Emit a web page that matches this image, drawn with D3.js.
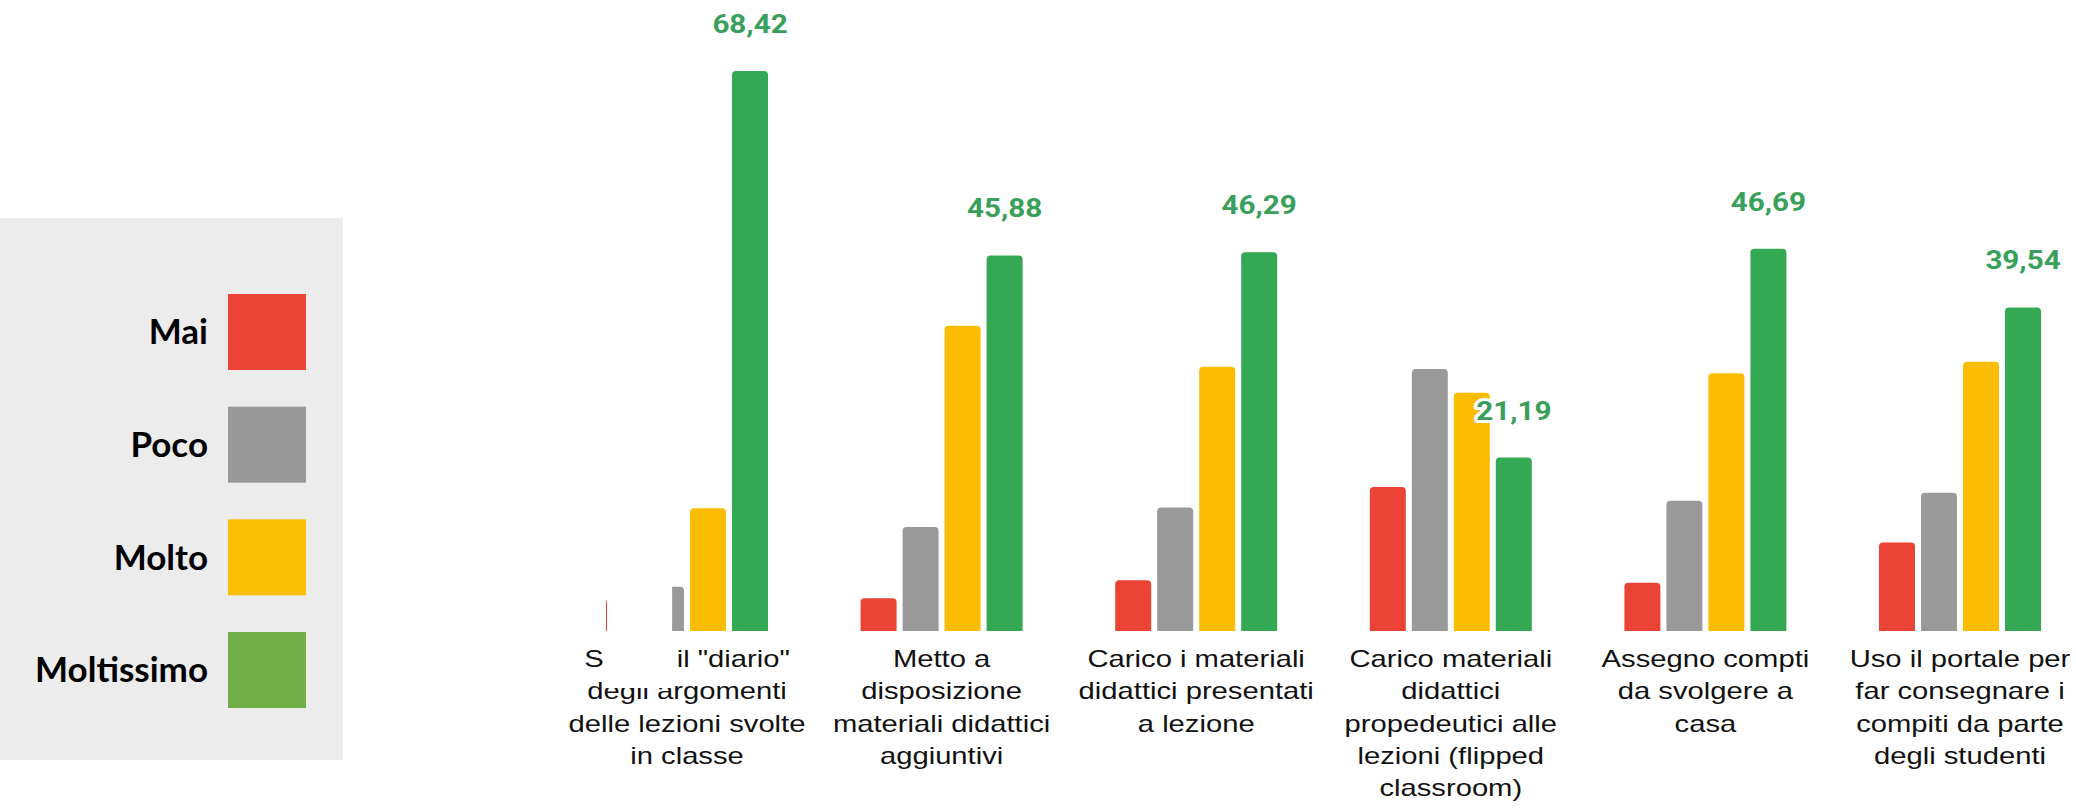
<!DOCTYPE html>
<html>
<head>
<meta charset="utf-8">
<script src="https://cdn.jsdelivr.net/npm/d3@7"></script>
<style>
  body { margin: 0; background: #fff; }
  svg { display: block; }
</style>
</head>
<body>
<div id="chart"></div>
<script>
// Data
const categories = [
  ["Segno il \"diario\"", "degli argomenti", "delle lezioni svolte", "in classe"],
  ["Metto a", "disposizione", "materiali didattici", "aggiuntivi"],
  ["Carico i materiali", "didattici presentati", "a lezione"],
  ["Carico materiali", "didattici", "propedeutici alle", "lezioni (flipped", "classroom)"],
  ["Assegno compti", "da svolgere a", "casa"],
  ["Uso il portale per", "far consegnare i", "compiti da parte", "degli studenti"]
];
const series = ["Mai", "Poco", "Molto", "Moltissimo"];
const mai = [3.9, 4.0, 6.2, 17.6, 5.9, 10.8];
const poco = [5.4, 12.7, 15.1, 32.0, 15.9, 16.9];
const molto = [15.0, 37.3, 32.3, 29.1, 31.5, 32.9];
const moltissimo = [68.42, 45.88, 46.29, 21.19, 46.69, 39.54];

const barColors = ["#ea4335", "#9a9a9a", "#fbbc04", "#34a853"];
const legendColors = ["#ec4337", "#999999", "#f9bf05", "#70ad47"];

const values = [mai, poco, molto, moltissimo];
const data = [];
categories.forEach((c, i) => {
  series.forEach((s, j) => {
    data.push({ cat: i, series: s, value: values[j][i] });
  });
});

// Dimensions
const width = 2076;
const height = 811;
const baseline = 631;

const svg = d3.select("#chart")
  .append("svg")
  .attr("width", width)
  .attr("height", height);

// Scales
const x0 = d3.scaleBand()
  .domain(d3.range(categories.length))
  .range([559.7, 2087.3])
  .paddingInner(0.3637)
  .paddingOuter(0.18185);

const x1 = d3.scaleBand()
  .domain(series)
  .range([0, x0.bandwidth()])
  .paddingInner(0.143)
  .paddingOuter(0);

const y = d3.scaleLinear()
  .domain([0, 68.42])
  .range([baseline, 71]);

const color = d3.scaleOrdinal().domain(series).range(barColors);
const fmt = d3.formatLocale({ decimal: ",", thousands: ".", grouping: [3], currency: ["", "€"] }).format(".2f");

// Rounded-top bar path
function topRounded(x, yTop, w, h, r) {
  r = Math.min(r, h, w / 2);
  return `M${x},${yTop + h}V${yTop + r}Q${x},${yTop} ${x + r},${yTop}` +
    `H${x + w - r}Q${x + w},${yTop} ${x + w},${yTop + r}V${yTop + h}Z`;
}

// Bars
svg.append("g")
  .selectAll("path")
  .data(data)
  .enter()
  .append("path")
  .attr("fill", d => color(d.series))
  .attr("d", d => {
    const bx = x0(d.cat) + x1(d.series);
    return topRounded(bx, y(d.value), x1.bandwidth(), baseline - y(d.value), 4);
  });

// Category labels (wrapped, horizontally stretched like the source)
const catLabels = svg.append("g")
  .attr("font-family", "'Liberation Sans', Arial, sans-serif")
  .attr("font-size", 23)
  .attr("fill", "#111");

categories.forEach((lines, i) => {
  const cx = x0(i) + x0.bandwidth() / 2;
  lines.forEach((line, k) => {
    catLabels.append("text")
      .attr("transform", `translate(${cx},${667 + k * 32.3}) scale(1.27,1)`)
      .attr("text-anchor", "middle")
      .text(line);
  });
});

// White patch that hides part of the first group in the source image
const gx = x0(0);
const patchW = x1("Poco") + x1.bandwidth() * 0.67;
svg.append("rect")
  .attr("x", gx + 1)
  .attr("y", y(9))
  .attr("width", patchW - 1)
  .attr("height", baseline - y(9))
  .attr("fill", "#fff");
svg.append("rect")
  .attr("x", gx - 3)
  .attr("y", baseline + 1)
  .attr("width", patchW + 3)
  .attr("height", 688 - baseline - 1)
  .attr("fill", "#fff");

// Value labels (Moltissimo only)
svg.append("g")
  .selectAll("text")
  .data(data.filter(d => d.series === "Moltissimo"))
  .enter()
  .append("text")
  .attr("transform", d => `translate(${x0(d.cat) + x1(d.series) + x1.bandwidth() / 2},${y(d.value) - 38}) scale(1.14,1)`)
  .attr("text-anchor", "middle")
  .attr("font-family", "Roboto, 'Liberation Sans', sans-serif")
  .attr("font-weight", "bold")
  .attr("font-size", 26)
  .attr("fill", "#38a05a")
  .attr("stroke", "#fff")
  .attr("stroke-width", 6)
  .attr("stroke-linejoin", "round")
  .attr("paint-order", "stroke")
  .text(d => fmt(d.value));

// Legend
const legend = svg.append("g");
legend.append("rect")
  .attr("x", 0)
  .attr("y", 218)
  .attr("width", 343)
  .attr("height", 542)
  .attr("fill", "#ececec");

const ly = d3.scalePoint().domain(series).range([332, 670]);
const legendColor = d3.scaleOrdinal().domain(series).range(legendColors);

const items = legend.selectAll("g.item")
  .data(series)
  .enter()
  .append("g")
  .attr("class", "item")
  .attr("transform", d => `translate(0,${ly(d)})`);

items.append("rect")
  .attr("x", 228)
  .attr("y", -38)
  .attr("width", 78)
  .attr("height", 76)
  .attr("fill", d => legendColor(d));

items.append("text")
  .attr("x", 208)
  .attr("dy", "0.35em")
  .attr("text-anchor", "end")
  .attr("font-family", "Lato, 'Open Sans', sans-serif")
  .attr("font-weight", "bold")
  .attr("font-size", 35)
  .attr("fill", "#000")
  .text(d => d);
</script>
</body>
</html>
